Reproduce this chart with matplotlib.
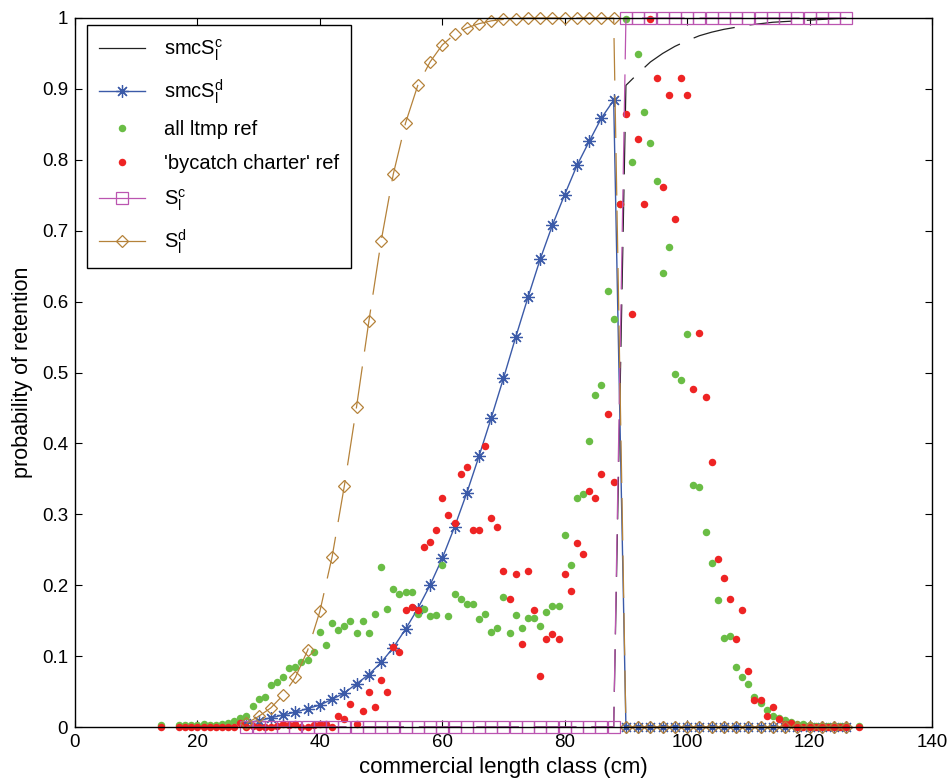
import numpy as np
import matplotlib
matplotlib.use("Agg")
import matplotlib.pyplot as plt

plt.rcParams["font.family"] = ["Liberation Sans", "DejaVu Sans"]
plt.rcParams["mathtext.fontset"] = "custom"
plt.rcParams["mathtext.rm"] = "Liberation Sans"
plt.rcParams["font.size"] = 13.5

# model curves, every 2 cm
len_model = np.arange(28, 127, 2)
smc_sc = [0] * 31 + [0.905, 0.922, 0.938, 0.950, 0.960, 0.968, 0.975, 0.980, 0.984,
                     0.987, 0.990, 0.992, 0.994, 0.995, 0.996, 0.997, 0.998, 0.999, 1.0]
smc_sd = [0.005, 0.009, 0.013, 0.017, 0.021, 0.026, 0.031, 0.039, 0.048, 0.061,
          0.074, 0.091, 0.112, 0.138, 0.167, 0.200, 0.238, 0.282, 0.330, 0.382,
          0.436, 0.492, 0.550, 0.606, 0.660, 0.708, 0.751, 0.792, 0.826, 0.859,
          0.884] + [0] * 19
s_c = [0] * 31 + [1] * 19
s_d = [0.005, 0.015, 0.027, 0.045, 0.070, 0.108, 0.163, 0.240, 0.340, 0.452,
       0.572, 0.685, 0.780, 0.852, 0.905, 0.938, 0.962, 0.977, 0.986, 0.992,
       0.996, 0.998, 0.999, 1, 1, 1, 1, 1, 1, 1, 1] + [0] * 19

# observed retention, every 1 cm
len_ltmp = [14] + list(range(17, 127)) + [128]
all_ltmp = [0.003,
            0.003, 0.003, 0.003, 0.003, 0.004, 0.003, 0.003, 0.004, 0.006, 0.008,  # 17-26
            0.012, 0.015, 0.029, 0.040, 0.043, 0.059, 0.064, 0.071, 0.083, 0.085,  # 27-36
            0.092, 0.094, 0.106, 0.134, 0.116, 0.147, 0.137, 0.143, 0.150, 0.133,  # 37-46
            0.150, 0.133, 0.160, 0.226, 0.166, 0.195, 0.188, 0.190, 0.190, 0.159,  # 47-56
            0.166, 0.156, 0.158, 0.228, 0.156, 0.188, 0.181, 0.173, 0.173, 0.152,  # 57-66
            0.160, 0.134, 0.139, 0.184, 0.132, 0.158, 0.139, 0.154, 0.154, 0.143,  # 67-76
            0.162, 0.171, 0.171, 0.271, 0.228, 0.323, 0.329, 0.404, 0.468, 0.483,  # 77-86
            0.615, 0.575, 0.737, 0.998, 0.797, 0.949, 0.868, 0.823, 0.770, 0.641,  # 87-96
            0.677, 0.498, 0.489, 0.554, 0.342, 0.338, 0.275, 0.231, 0.179, 0.126,  # 97-106
            0.128, 0.085, 0.071, 0.060, 0.043, 0.034, 0.024, 0.016, 0.013, 0.010,  # 107-116
            0.007, 0.004, 0.004, 0.003, 0.002, 0.002, 0.002, 0.002, 0.002, 0.002,  # 117-126
            0.002]

len_bycatch = [14] + list(range(17, 127)) + [128]
bycatch = [0,
           0, 0, 0, 0, 0, 0, 0, 0, 0, 0,                                         # 17-26
           0.005, 0, 0.001, 0, 0, 0, 0.002, 0.004, 0.003, 0.004,                  # 27-36
           0, 0, 0.003, 0.004, 0.004, 0, 0.015, 0.011, 0.032, 0.004,              # 37-46
           0.022, 0.049, 0.028, 0.066, 0.049, 0.113, 0.106, 0.165, 0.169, 0.165,  # 47-56
           0.254, 0.261, 0.278, 0.323, 0.299, 0.288, 0.357, 0.367, 0.278, 0.278,  # 57-66
           0.397, 0.295, 0.282, 0.220, 0.181, 0.216, 0.117, 0.220, 0.165, 0.072,  # 67-76
           0.124, 0.131, 0.124, 0.216, 0.192, 0.260, 0.244, 0.333, 0.323, 0.357,  # 77-86
           0.442, 0.346, 0.737, 0.864, 0.583, 0.830, 0.738, 0.998, 0.915, 0.761,  # 87-96
           0.891, 0.716, 0.915, 0.891, 0.477, 0.556, 0.466, 0.374, 0.237, 0.210,  # 97-106
           0.181, 0.124, 0.165, 0.079, 0.038, 0.038, 0.016, 0.028, 0.011, 0.004,  # 107-116
           0.005, 0, 0, 0, 0, 0, 0, 0, 0, 0,                                      # 117-126
           0]

fig = plt.figure(figsize=(9.49, 7.80), dpi=100)
ax = fig.add_axes([75 / 949, 53 / 780, 857 / 949, 709 / 780])

dash = (34, 12)
ax.plot(len_model, smc_sc, color="#222222", lw=0.9, dashes=dash,
        label=r"smcS$\mathregular{_l^c}$")
ax.plot(len_model, smc_sd, color="#3b5aa8", lw=1.0, marker=(8, 2, 0), ms=9,
        mew=0.9, label=r"smcS$\mathregular{_l^d}$", clip_on=False)
ax.plot(len_ltmp, all_ltmp, "o", color="#6abd45", ms=5.4, mew=0,
        label="all ltmp ref", clip_on=False)
ax.plot(len_bycatch, bycatch, "o", color="#ee2424", ms=5.4, mew=0,
        label="'bycatch charter' ref", clip_on=False)
ax.plot(len_model, s_c, color="#bb55b0", lw=0.9, dashes=dash, marker="s", ms=8.6,
        mfc="none", mew=0.9, label=r"S$\mathregular{_l^c}$", clip_on=False)
ax.plot(len_model, s_d, color="#b5823a", lw=0.9, dashes=dash, marker="D", ms=6.6,
        mfc="none", mew=0.9, label=r"S$\mathregular{_l^d}$", clip_on=False)

ax.set_xlim(0, 140)
ax.set_ylim(0, 1)
ax.set_xticks(range(0, 141, 20))
ax.set_yticks(np.arange(0, 1.01, 0.1))
ax.set_yticklabels(["0", "0.1", "0.2", "0.3", "0.4", "0.5", "0.6", "0.7", "0.8", "0.9", "1"])
ax.tick_params(direction="in", top=True, right=True, length=5, width=0.8, pad=5)
for s in ax.spines.values():
    s.set_linewidth(1.0)
ax.set_xlabel("commercial length class (cm)", fontsize=16, labelpad=4)
ax.set_ylabel("probability of retention", fontsize=15.5, labelpad=6)

leg = ax.legend(loc="upper left", bbox_to_anchor=(0.014, 0.99), fancybox=False,
                edgecolor="black", framealpha=1, fontsize=14.5, handlelength=2.3,
                labelspacing=0.72, borderpad=0.6, handletextpad=0.9,
                borderaxespad=0)
leg.get_frame().set_linewidth(1.0)
for ln in leg.get_lines():
    if ln.get_linestyle() not in ("None", "", " "):
        ln.set_linestyle("-")

plt.savefig("out.png", dpi=100)
